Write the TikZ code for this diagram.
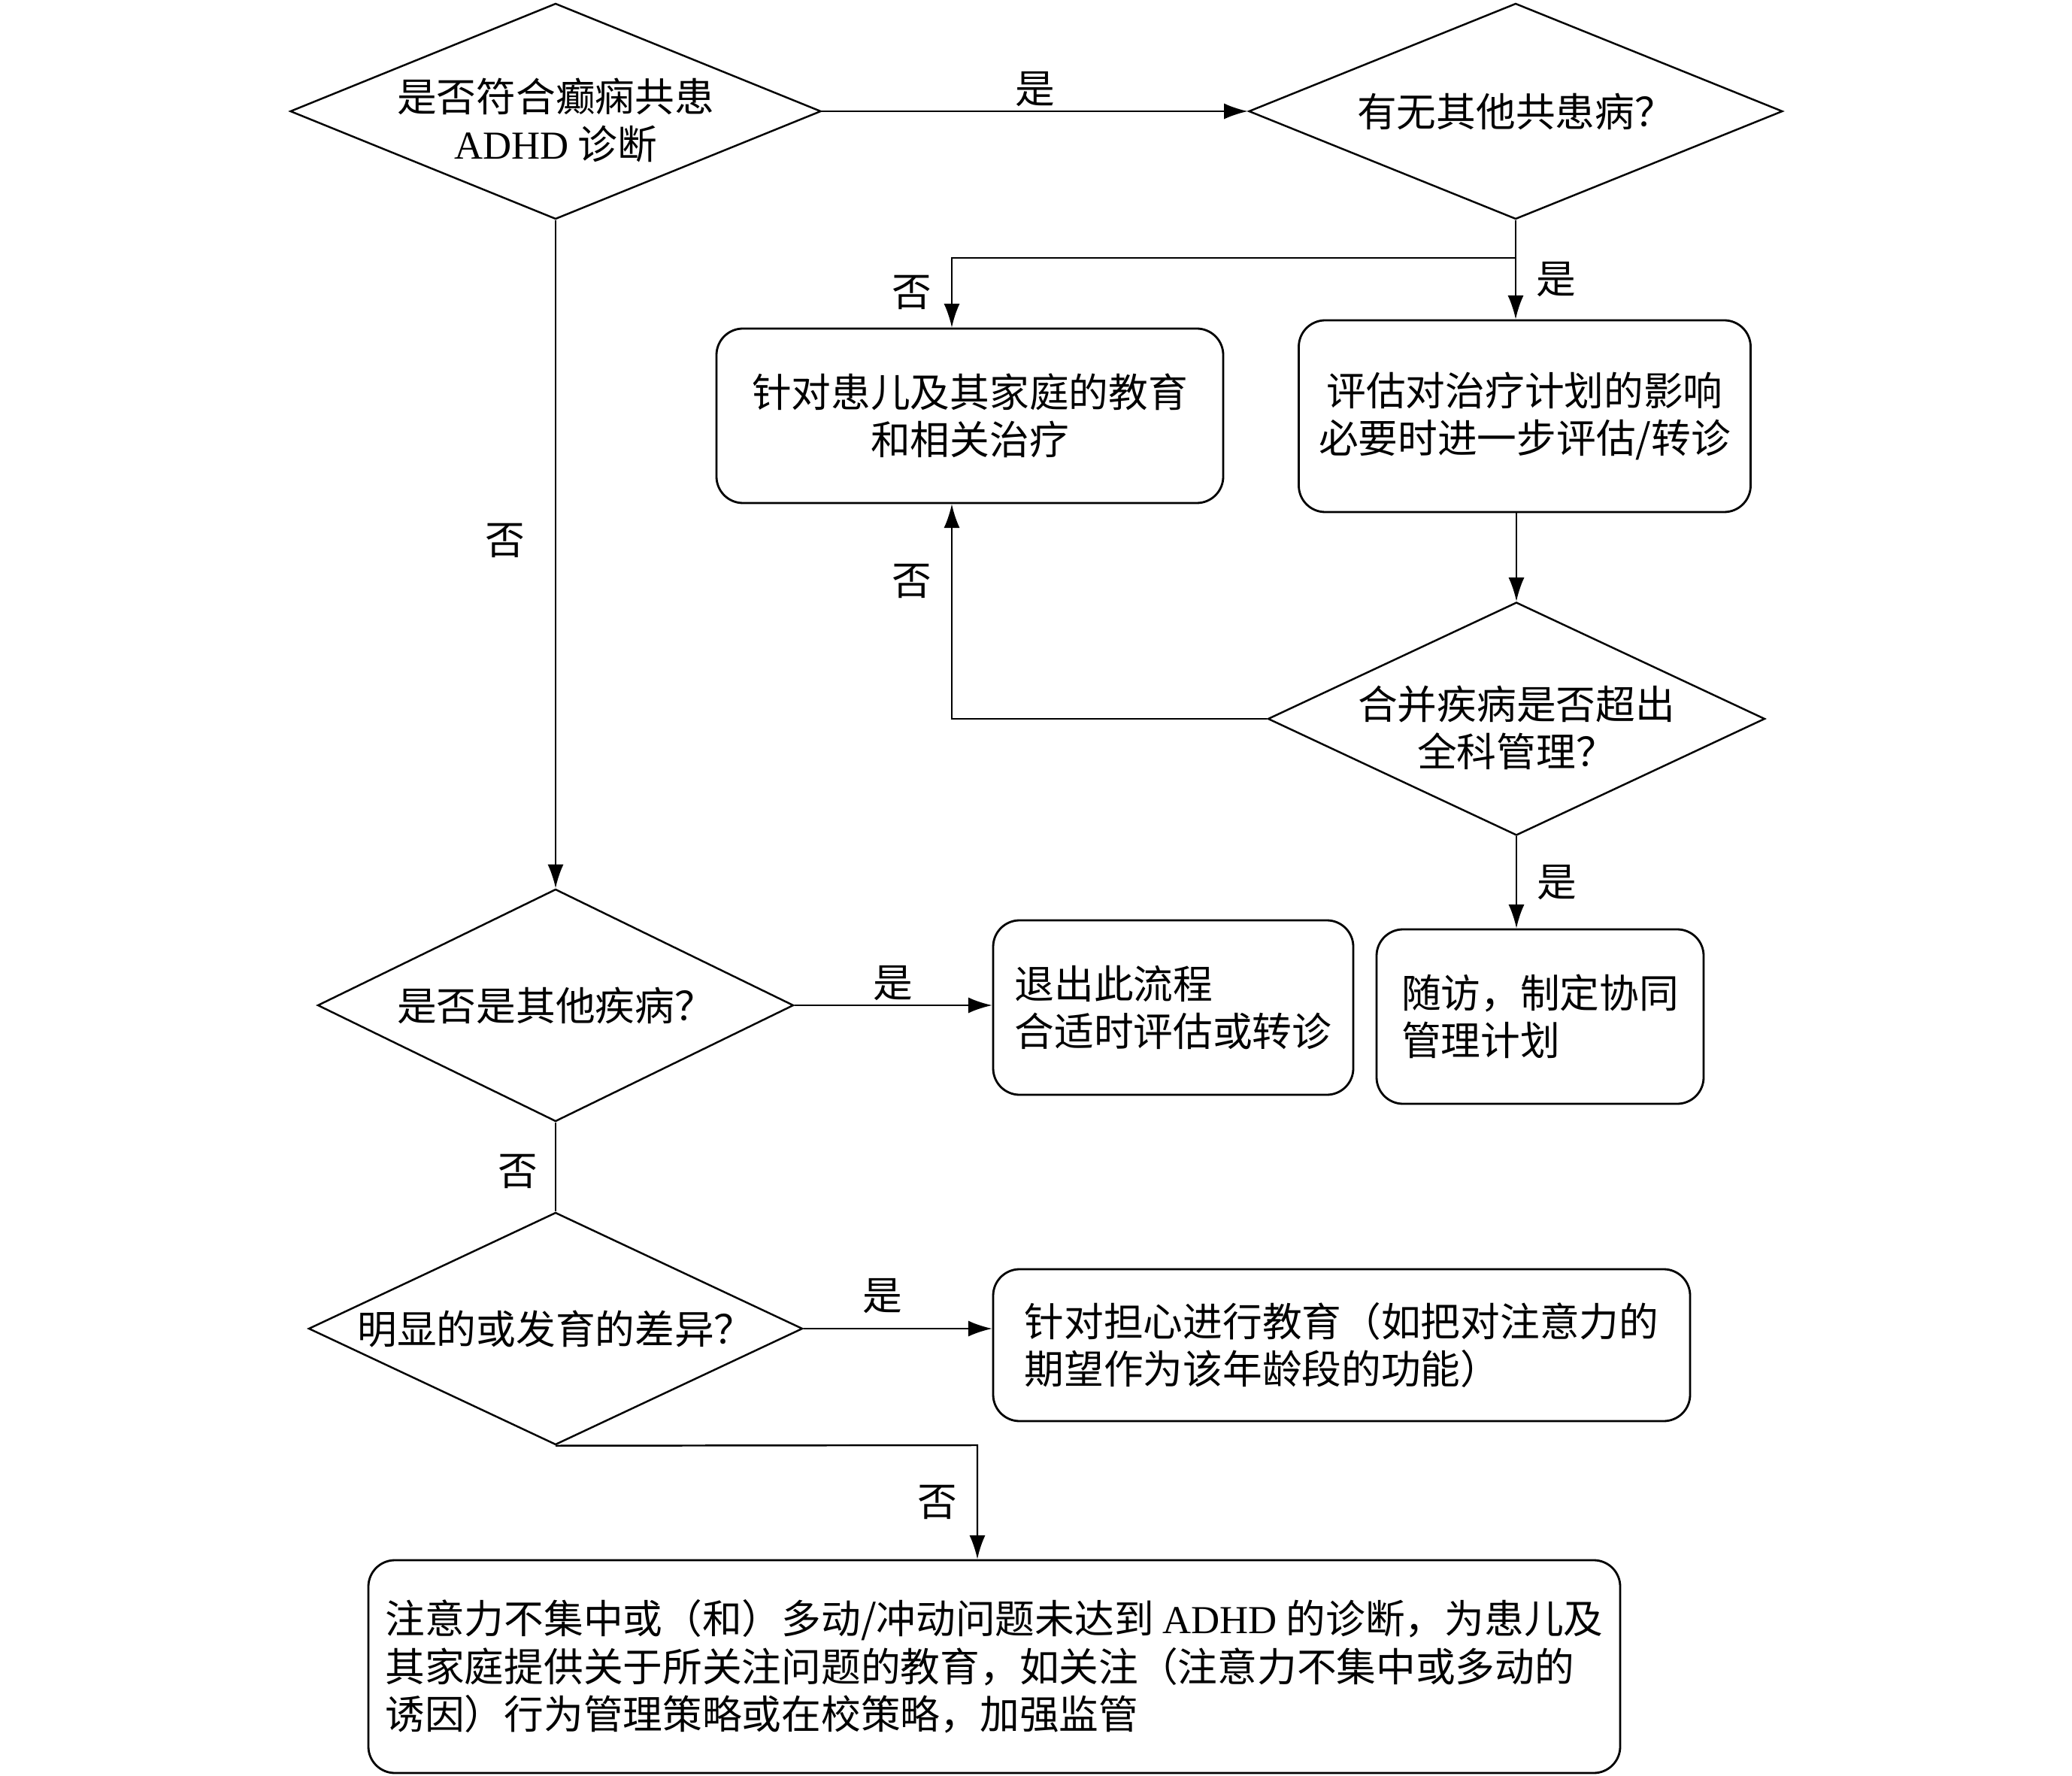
\documentclass[tikz,border=0pt]{standalone}
\usepackage{fontspec}
\newfontfamily\cjkfont{Noto Sans CJK SC}
\newfontfamily\latinfont{Liberation Serif}
\usetikzlibrary{shapes.geometric,arrows.meta,positioning}
\tikzset{
  decision/.style={diamond, draw, line width=0.7pt, inner sep=0pt},
  stepbox/.style={rectangle, draw, line width=0.8pt, rounded corners=10pt, align=left, inner sep=0pt},
  txt/.style={align=center, inner sep=0pt},
  line/.style={line width=0.7pt}
}
\begin{document}
\begin{tikzpicture}[>={Latex[length=9pt,width=6pt]}, font=\cjkfont\fontsize{15}{18}\selectfont]
  \useasboundingbox (0,0) rectangle (27.56,-23.62);

  % Nodes
  \foreach \n/\x/\y/\w/\h in {d1/7.39/-1.48/7.06/2.87, d2/20.16/-1.48/7.10/2.87,
      d3/20.17/-9.56/6.61/3.10, d4/7.39/-13.37/6.33/3.09, d5/7.39/-17.67/6.57/3.09}
    \node[decision, minimum width=\w cm, minimum height=\h cm] (\n) at (\x,\y) {};

  \node[txt] (t1) at ([yshift=-0.12cm]d1) {是否符合癫痫共患\\{\latinfont ADHD} 诊断};
  \node[txt] (t2) at (d2) {有无其他共患病？};
  \node[txt] (t3) at ([yshift=-0.12cm]d3) {合并疾病是否超出\\全科管理？};
  \node[txt] (t4) at (d4) {是否是其他疾病？};
  \node[txt] (t5) at (d5) {明显的或发育的差异？};

  \node[stepbox, align=center, minimum width=6.74cm, minimum height=2.32cm] (boxA) at (12.90,-5.53)
    {针对患儿及其家庭的教育\\和相关治疗};
  \node[stepbox, align=center, minimum width=6.01cm, minimum height=2.55cm] (boxB) at (20.28,-5.535)
    {评估对治疗计划的影响\\必要时进一步评估/转诊};
  \node[stepbox, minimum width=4.79cm, minimum height=2.32cm] (boxC) at (15.605,-13.40)
    {退出此流程\\合适时评估或转诊};
  \node[stepbox, minimum width=4.35cm, minimum height=2.32cm] (boxD) at (20.485,-13.52)
    {随访，制定协同\\管理计划};
  \node[stepbox, minimum width=9.27cm, minimum height=2.02cm] (boxE) at (17.845,-17.89)
    {针对担心进行教育（如把对注意力的\\期望作为该年龄段的功能）};
  \node[stepbox, minimum width=16.65cm, minimum height=2.83cm] (boxF) at (13.225,-22.165)
    {注意力不集中或（和）多动/冲动问题未达到 {\latinfont ADHD} 的诊断，为患儿及\\
     其家庭提供关于所关注问题的教育，如关注（注意力不集中或多动的\\
     诱因）行为管理策略或在校策略，加强监管};

  \coordinate (splitA) at (12.66,-3.43);
  \coordinate (turnF) at (13.00,-19.22);

  % Arrows and Labels
  \draw[line,->] (d1.east) -- node[above=-2pt] (yes1) {是} (d2.west);
  \draw[line,->] (d2.south) -- node[pos=0.6, right=4pt] (yes2) {是} (boxB.north -| d2.south);
  \draw[line,->] (d2.south) |- (splitA) -- node[left=4pt] (no1) {否} (splitA |- boxA.north);
  \draw[line,->] (d3.north |- boxB.south) -- (d3.north);
  \draw[line,->] (d3.west) -| node[pos=0.82, left=4pt] (no2) {否} (splitA |- boxA.south);
  \draw[line,->] (d3.south) -- node[right=4pt] (yes3) {是} (d3.south |- boxD.north);
  \draw[line,->] (d1.south) -- node[pos=0.48, left=8pt] (no3) {否} (d4.north);
  \draw[line,->] (d4.east) -- node[above=-2pt] (yes4) {是} (d4.east -| boxC.west);
  \draw[line] (d4.south) -- node[pos=0.55, left=3pt] (no4) {否} (d5.north);
  \draw[line,->] (d5.east) -- node[pos=0.42, above=2pt] (yes5) {是} (d5.east -| boxE.west);
  \draw[line,->] (d5.south) -- (turnF) -- node[left=4pt] (no5) {否} (turnF |- boxF.north);

\end{tikzpicture}
\end{document}
